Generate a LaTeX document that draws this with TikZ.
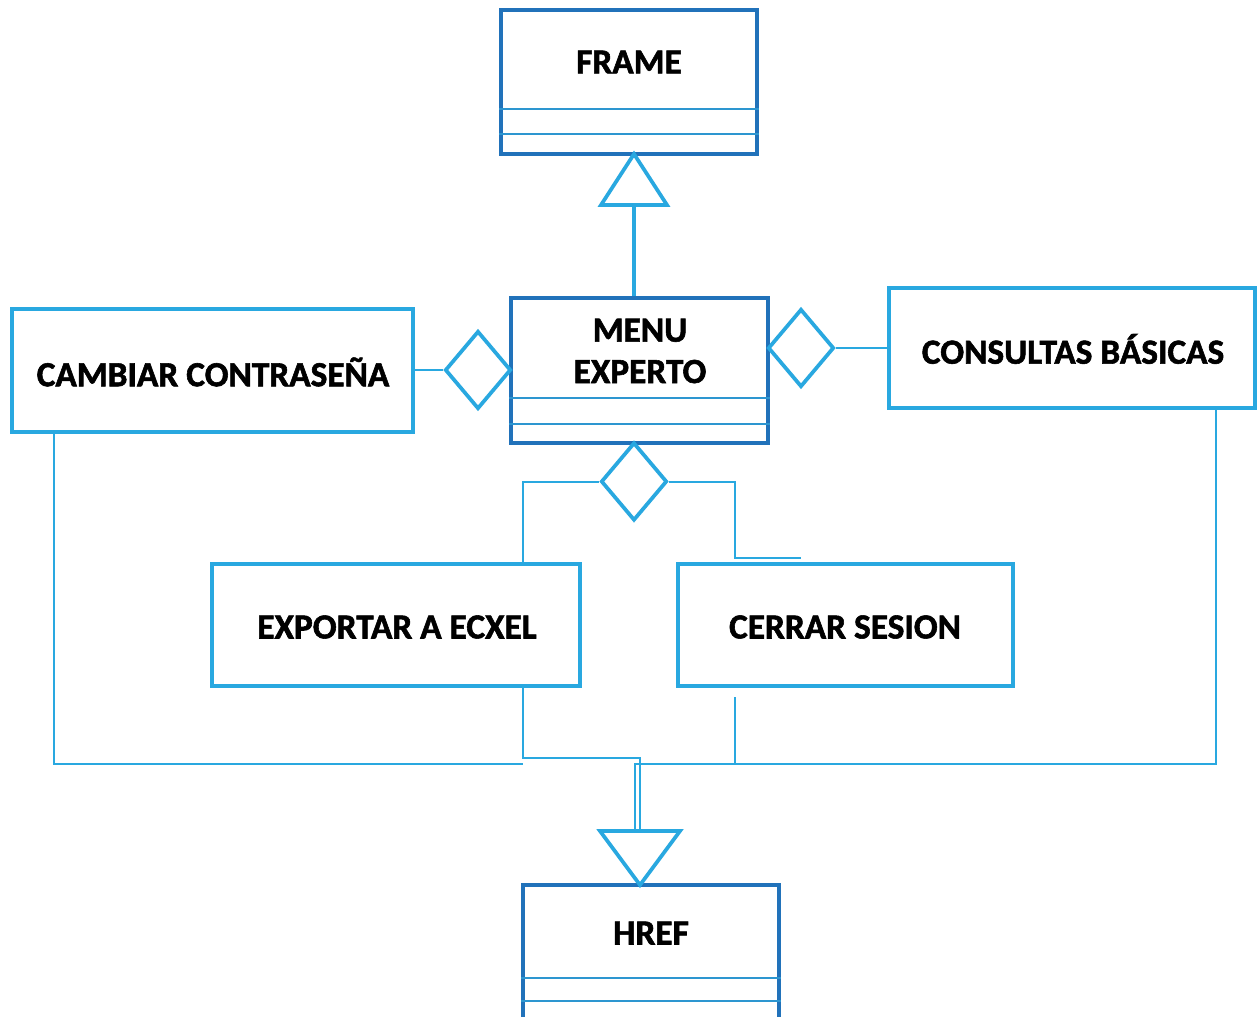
\documentclass[tikz,border=0pt]{standalone}
\usepackage{fontspec}
\setmainfont{Carlito}
\newfontfamily\heavyfont{Carlito}[UprightFont={* Bold}, FakeBold=1.6]
\usetikzlibrary{shapes.geometric,calc}

\definecolor{clsblue}{RGB}{33,114,186}
\definecolor{lineblue}{RGB}{41,168,224}
\definecolor{sepblue}{RGB}{45,150,208}

\newdimen\upx
\upx=0.75pt

\tikzset{
  classbox/.style={draw=clsblue, line width=2.4pt, inner sep=0pt},
  actbox/.style={draw=lineblue, line width=2.6pt, inner sep=0pt},
  agg/.style={diamond, draw=lineblue, line width=2.8pt, inner sep=0pt, aspect=0.85,
              minimum width=66\upx, minimum height=78\upx},
  lbl/.style={font=\heavyfont\fontsize{26.5}{32}\selectfont, text=black, align=center, inner sep=0pt},
  sep/.style={draw=sepblue, line width=1.5pt},
  link/.style={draw=lineblue, line width=1.5pt},
  gen/.style={draw=lineblue, line width=2.8pt, line join=miter},
}

\begin{document}
\begin{tikzpicture}[x=0.75pt, y=-0.75pt]
\useasboundingbox (0,0) rectangle (1257,1017);
\fill[white] (0,0) rectangle (1257,1017);

% class boxes
\node[classbox, minimum width=256\upx, minimum height=144\upx] (frame) at (629,82) {};
\node[classbox, minimum width=257\upx, minimum height=145\upx] (menu) at (639.5,370.5) {};
\node[classbox, minimum width=256\upx, minimum height=144\upx] (href) at (651,957) {};

% compartments
\draw[sep] ($(frame.north west)+(0,101)$) -- ($(frame.north east)+(0,101)$);
\draw[sep] ($(frame.north west)+(0,126)$) -- ($(frame.north east)+(0,126)$);
\draw[sep] ($(menu.north west)+(0,102)$) -- ($(menu.north east)+(0,102)$);
\draw[sep] ($(menu.north west)+(0,128)$) -- ($(menu.north east)+(0,128)$);
\draw[sep] ($(href.north west)+(0,95)$) -- ($(href.north east)+(0,95)$);
\draw[sep] ($(href.north west)+(0,118)$) -- ($(href.north east)+(0,118)$);

% class names
\node[lbl] (frametxt) at (629,62) {FRAME};
\node[lbl] (menutxt) at (640,351) {MENU\\[-1pt]EXPERTO};
\node[lbl] (hreftxt) at (651,933) {HREF};

% other boxes
\node[actbox, minimum width=401\upx, minimum height=123\upx] (cambiar) at (212.5,370.5) {};
\node[actbox, minimum width=366\upx, minimum height=120\upx] (consultas) at (1072,348) {};
\node[actbox, minimum width=368\upx, minimum height=122\upx] (exportar) at (396,625) {};
\node[actbox, minimum width=335\upx, minimum height=122\upx] (cerrar) at (845.5,625) {};

\node[lbl] (cambiartxt) at (213,372) {CAMBIAR CONTRASEÑA};
\node[lbl] (consultastxt) at (1073,349) {CONSULTAS BÁSICAS};
\node[lbl] (exportartxt) at (397,627) {EXPORTAR A ECXEL};
\node[lbl] (cerrartxt) at (845,627) {CERRAR SESION};

% aggregation diamonds
\node[agg] (dL) at (478,370) {};
\node[agg] (dR) at (801,348) {};
\node[agg] (dB) at (634,481.5) {};

% vertical routing columns
\coordinate (c54) at (54,0);
\coordinate (c523) at (523,0);
\coordinate (c735) at (735,0);
\coordinate (c1216) at (1216,0);

% generalisation towards FRAME
\coordinate (upTip) at (634,154);
\draw[gen] (upTip) -- ++(33,51) -- ++(-66,0) -- cycle;
\draw[gen] ($(upTip)+(0,51)$) -- (upTip |- menu.north);

% generalisation towards HREF
\coordinate (downTip) at (640,885);
\draw[gen] (downTip) -- ++(40,-54) -- ++(-80,0) -- cycle;

% aggregation links
\draw[link] (dL.west) -- (cambiar.east |- dL.west);
\draw[link] (dR.east) -- (consultas.west |- dR.east);
\draw[link] (dB.west) -| (c523 |- exportar.north);
\coordinate (cerrarEnd) at (801,558);
\draw[link] (dB.east) -| (c735 |- cerrarEnd) -- (cerrarEnd);

% links down to HREF
\coordinate (leftEnd) at (523,764);
\draw[link] (c54 |- cambiar.south) -- (54,764) -- (leftEnd);
\draw[link] (c523 |- exportar.south) -- (523,757.5) -- (639.5,757.5) -- (639.5,831);
\draw[link] (c1216 |- consultas.south) -- (1216,763.5) -- (634.5,763.5) -- (634.5,831);
\coordinate (cerrarStart) at (735,697);
\draw[link] (cerrarStart) -- (735,763.5);
\end{tikzpicture}
\end{document}
